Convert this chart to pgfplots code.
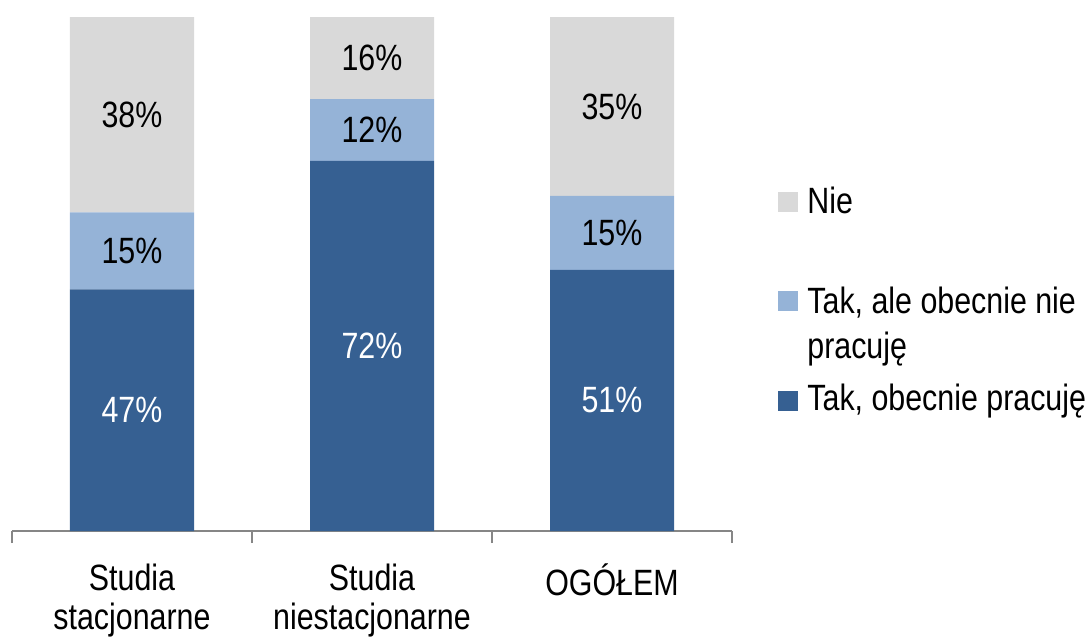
\documentclass[border=0pt]{standalone}
\usepackage{pgfplots}
\pgfplotsset{compat=1.18}
\usepackage{fontspec}
\setmainfont{Liberation Sans}[FakeStretch=0.83]
\definecolor{ciemny}{RGB}{54,96,146}
\definecolor{jasny}{RGB}{149,179,215}
\definecolor{szary}{RGB}{217,217,217}
\definecolor{osie}{RGB}{134,134,134}
\begin{document}
\begin{tikzpicture}[x=0.5pt, y=-0.5pt, font=\fontsize{18.3}{19}\selectfont]
\useasboundingbox (0,0) rectangle (1092,637);
\begin{axis}[
    at={(6pt,-265.5pt)}, anchor=south west,
    scale only axis, width=360pt, height=257pt,
    xmin=-0.5, xmax=2.5, ymin=0, ymax=100,
    ybar stacked, bar width=62pt,
    axis y line=none, axis x line*=bottom,
    axis line style={osie, line width=0.8pt},
    xtick={0,1,2},
    xticklabels={{Studia\\stacjonarne},{Studia\\niestacjonarne},{OGÓŁEM}},
    xticklabel style={align=center, anchor=north, yshift=-13pt,
        font=\fontsize{18.3}{19.3}\selectfont},
    major tick length=0pt,
    minor xtick={-0.5,0.5,1.5,2.5},
    minor tick length=6pt,
    tick align=outside,
    minor tick style={osie, line width=0.8pt},
    nodes near coords,
    point meta=explicit symbolic,
    every node near coord/.append style={anchor=center, text=black,
        font=\fontsize{18.3}{19}\selectfont},
]
\addplot[fill=ciemny, draw=none, every node near coord/.append style={text=white}]
    coordinates {(0,47) [47\%] (1,72) [72\%] (2,50.8) [51\%]};
\addplot[fill=jasny, draw=none]
    coordinates {(0,15) [15\%] (1,12) [12\%] (2,14.4) [15\%]};
\addplot[fill=szary, draw=none]
    coordinates {(0,38) [38\%] (1,16) [16\%] (2,34.8) [35\%]};
\end{axis}
% legenda
\fill[szary] (778,192) rectangle (798,212);
\node[anchor=base west, inner sep=0pt] at (807,213) {Nie};
\fill[jasny] (778,291) rectangle (798,311);
\node[anchor=base west, inner sep=0pt] at (807,313) {Tak, ale obecnie nie};
\node[anchor=base west, inner sep=0pt] at (807,358) {pracuję};
\fill[ciemny] (778,391) rectangle (798,411);
\node[anchor=base west, inner sep=0pt] at (807,410) {Tak, obecnie pracuję};
\end{tikzpicture}
\end{document}
